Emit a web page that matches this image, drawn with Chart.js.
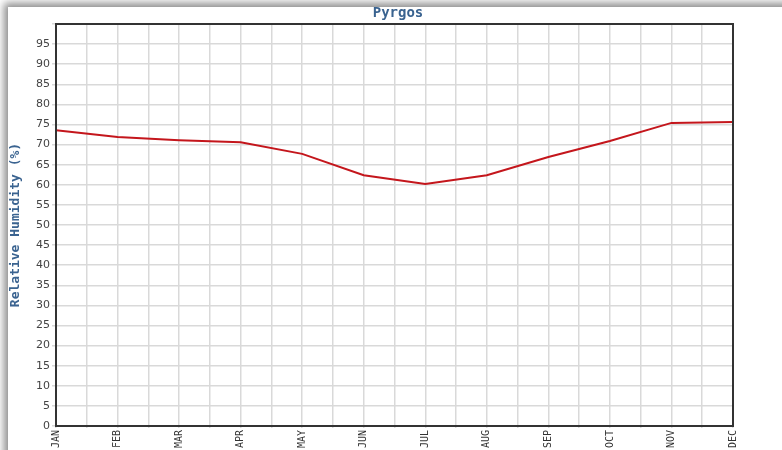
<!DOCTYPE html>
<html>
<head>
<meta charset="utf-8">
<script src="https://cdn.jsdelivr.net/npm/chart.js@4"></script>
<style>
  html, body { margin: 0; padding: 0; background: #ffffff; overflow: hidden; }
  #card { position: absolute; left: 8px; top: 7px; width: 800px; height: 470px; background: #fff;
          box-shadow: -1px -1px 8px 3px rgba(0,0,0,0.45); }
  #wrap { position: absolute; left: 0; top: 0; width: 782px; height: 450px; }
</style>
</head>
<body>
<div id="card"></div>
<div id="wrap"><canvas id="c" width="782" height="450"></canvas></div>
<script>
const months = ["JAN","FEB","MAR","APR","MAY","JUN","JUL","AUG","SEP","OCT","NOV","DEC"];
const humidity = [73.6, 71.9, 71.1, 70.6, 67.7, 62.4, 60.2, 62.4, 66.9, 70.9, 75.4, 75.6];
const chartTitle = "Pyrgos";
const yTitle = "Relative Humidity (%)";

const points = humidity.map((v, i) => ({ x: i, y: v }));

const frame = {
  id: 'frame',
  afterLayout(chart) {
    const t = chart.titleBlock;
    if (t) { t.left = 6; t.right = 790; }
  },
  afterDraw(chart) {
    const a = chart.chartArea, ctx = chart.ctx;
    ctx.save();
    ctx.strokeStyle = '#333';
    ctx.lineWidth = 2;
    ctx.strokeRect(a.left, a.top, a.right - a.left, a.bottom - a.top);
    ctx.restore();
  }
};

new Chart(document.getElementById('c'), {
  type: 'line',
  data: {
    datasets: [{
      data: points,
      borderColor: '#c4161c',
      borderWidth: 2,
      pointRadius: 0,
      tension: 0,
      fill: false
    }]
  },
  options: {
    responsive: false,
    animation: false,
    layout: { padding: { left: 6, right: 49, top: 0, bottom: 0 } },
    plugins: {
      legend: { display: false },
      tooltip: { enabled: false },
      title: {
        display: true,
        text: chartTitle,
        color: '#3a6390',
        font: { family: 'DejaVu Sans Mono', size: 14, weight: 'bold' },
        padding: { top: 5, bottom: 2.2 }
      }
    },
    scales: {
      x: {
        type: 'linear',
        min: 0, max: 11,
        ticks: {
          stepSize: 0.5,
          autoSkip: false,
          maxRotation: 90, minRotation: 90,
          color: '#333',
          font: { family: 'DejaVu Sans Mono', size: 10 },
          padding: 2,
          callback: (v) => Number.isInteger(v) ? months[v] : ''
        },
        grid: { color: '#d9d9d9', lineWidth: 1.5, tickLength: 2, drawTicks: true },
        border: { color: '#333', width: 2 },
        afterFit: (s) => { s.height = 24; }
      },
      y: {
        min: 0, max: 100,
        ticks: {
          stepSize: 5,
          color: '#444',
          font: { family: 'DejaVu Sans', size: 11 },
          padding: 2,
          callback: (v) => v === 100 ? '' : v
        },
        grid: { color: '#d9d9d9', lineWidth: 1.5, tickLength: 4 },
        border: { color: '#333', width: 2 },
        title: {
          display: true,
          text: yTitle,
          color: '#3a6390',
          font: { family: 'DejaVu Sans Mono', size: 13, weight: 'bold' },
          padding: { top: 2, bottom: 0 }
        },
        afterFit: (s) => { s.width = 50; }
      }
    }
  },
  plugins: [frame]
});
</script>
</body>
</html>
